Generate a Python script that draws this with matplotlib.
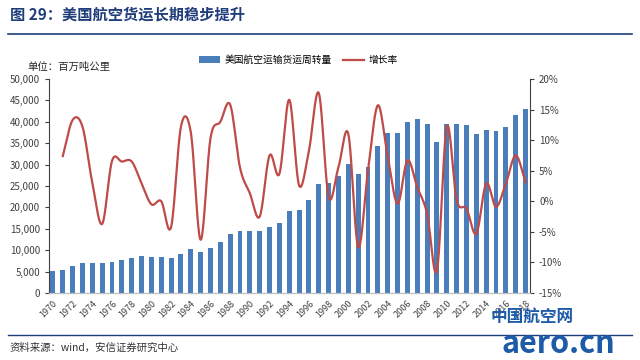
import matplotlib
matplotlib.use("Agg")
import matplotlib.pyplot as plt
from matplotlib.lines import Line2D
from matplotlib.patches import Patch
import numpy as np

plt.rcParams["font.family"] = ["Noto Sans CJK SC", "DejaVu Sans"]

BAR_BLUE = "#4a7ebb"
LINE_RED = "#be4b48"
NAVY = "#1f3d7a"

# 美国航空运输货运周转量 (百万吨公里), 1970-2018
years = list(range(1970, 2019))
volume = [
    5100, 5400, 6200, 6900, 7100, 6900, 7300, 7800, 8200, 8600,
    8400, 8400, 8200, 9100, 10200, 9500, 10600, 12000, 13800, 14600,
    14600, 14400, 15500, 16400, 19100, 19500, 21700, 25500, 25800, 27300,
    30100, 27900, 29400, 34300, 37400, 37400, 39900, 40700, 39400, 35200,
    39400, 39600, 39200, 37100, 38200, 37900, 38700, 41600, 43000,
]
# 增长率 (%), 1971-2018
growth_years = list(range(1971, 2019))
growth = [
    7.4, 13.3, 12.2, 3.0, -3.7, 6.6, 6.5, 6.5, 2.9, -0.5,
    0.0, -4.2, 12.2, 11.3, -6.3, 10.3, 13.0, 15.8, 5.5, 1.3,
    -2.5, 7.5, 4.5, 16.6, 2.6, 8.3, 17.7, 0.7, 5.6, 11.0,
    -7.5, 5.1, 15.7, 7.3, -0.4, 6.7, 2.3, -2.0, -11.3, 12.2,
    0.2, -1.2, -5.3, 2.9, -0.9, 2.9, 7.5, 3.1,
]
tick_years = list(range(1970, 2019, 2))


def smooth(x, y, n=20):
    """Catmull-Rom curve through the points, like Excel's smoothed line."""
    x = np.asarray(x, float)
    y = np.asarray(y, float)
    px = np.concatenate([[2 * x[0] - x[1]], x, [2 * x[-1] - x[-2]]])
    py = np.concatenate([[2 * y[0] - y[1]], y, [2 * y[-1] - y[-2]]])
    xs, ys = [], []
    t = np.linspace(0, 1, n, endpoint=False)
    for i in range(1, len(px) - 2):
        for arr, out in ((px, xs), (py, ys)):
            p0, p1, p2, p3 = arr[i - 1], arr[i], arr[i + 1], arr[i + 2]
            out.extend(0.5 * (2 * p1 + (-p0 + p2) * t
                              + (2 * p0 - 5 * p1 + 4 * p2 - p3) * t ** 2
                              + (-p0 + 3 * p1 - 3 * p2 + p3) * t ** 3))
    xs.append(x[-1])
    ys.append(y[-1])
    return np.array(xs), np.array(ys)


fig = plt.figure(figsize=(6.4, 3.6), dpi=100)
ax = fig.add_axes([49 / 640, 1 - 293 / 360, 481 / 640, 214 / 360])
ax2 = ax.twinx()

ax.bar(years, volume, width=0.5, color=BAR_BLUE, zorder=2)
sx, sy = smooth(growth_years, growth)
ax2.plot(sx, sy, color=LINE_RED, lw=1.6, zorder=3)

ax.set_xlim(1969.6, 2018.45)
ax.set_ylim(0, 50000)
ax.set_yticks(range(0, 50001, 5000))
ax.set_yticklabels([f"{v:,}" for v in range(0, 50001, 5000)])
ax2.set_ylim(-15, 20)
ax2.set_yticks(range(-15, 21, 5))
ax2.set_yticklabels([f"{v}%" for v in range(-15, 21, 5)])

ax.set_xticks(tick_years)
ax.set_xticklabels([str(y) for y in tick_years], rotation=45, ha="right",
                   rotation_mode="anchor", fontsize=6.5, color="#404040")
ax.tick_params(axis="x", length=0, pad=4)
ax.tick_params(axis="y", labelsize=7, colors="#404040", length=3, width=0.8)
ax2.tick_params(axis="y", labelsize=7, colors="#404040", length=3, width=0.8)

for a in (ax, ax2):
    a.spines["top"].set_visible(False)
    a.spines["left"].set_color("#404040")
    a.spines["right"].set_color("#404040")
    a.spines["bottom"].set_color("#bfbfbf")
    a.patch.set_visible(False)
ax2.spines["left"].set_visible(False)
ax.spines["right"].set_visible(False)

fig.text(27 / 640, 1 - 67 / 360, "单位：百万吨公里", fontsize=7.5, color="#262626",
         va="center")

handles = [Patch(facecolor=BAR_BLUE, edgecolor="none"),
           Line2D([], [], color=LINE_RED, lw=1.6)]
fig.legend(handles, ["美国航空运输货运周转量", "增长率"], ncol=2, frameon=False,
           loc="center", bbox_to_anchor=(0.466, 1 - 60 / 360), fontsize=7,
           handlelength=2.2, handleheight=0.7, columnspacing=1.2,
           handletextpad=0.4)

# header and footer
fig.text(10 / 640, 1 - 15 / 360, "图 29：美国航空货运长期稳步提升", fontsize=11,
         fontweight="bold", color=NAVY, va="center")
fig.add_artist(Line2D([8 / 640, 632 / 640], [1 - 34 / 360] * 2, color=NAVY, lw=1.2))
fig.add_artist(Line2D([8 / 640, 632 / 640], [1 - 335 / 360] * 2, color=NAVY, lw=1.0))
fig.text(10 / 640, 1 - 348 / 360, "资料来源：wind，安信证券研究中心", fontsize=7.5,
         style="italic", color="#333333", va="center")

# watermark
fig.text(532 / 640, 1 - 317 / 360, "中国航空网", fontsize=12, fontweight="bold",
         color="#1d5ba8", ha="center", va="center")
fig.text(558 / 640, 1 - 344 / 360, "aero.cn", fontsize=22, fontweight="bold",
         color="#1d5ba8", ha="center", va="center")

fig.savefig("out.png", dpi=100, facecolor="white")
